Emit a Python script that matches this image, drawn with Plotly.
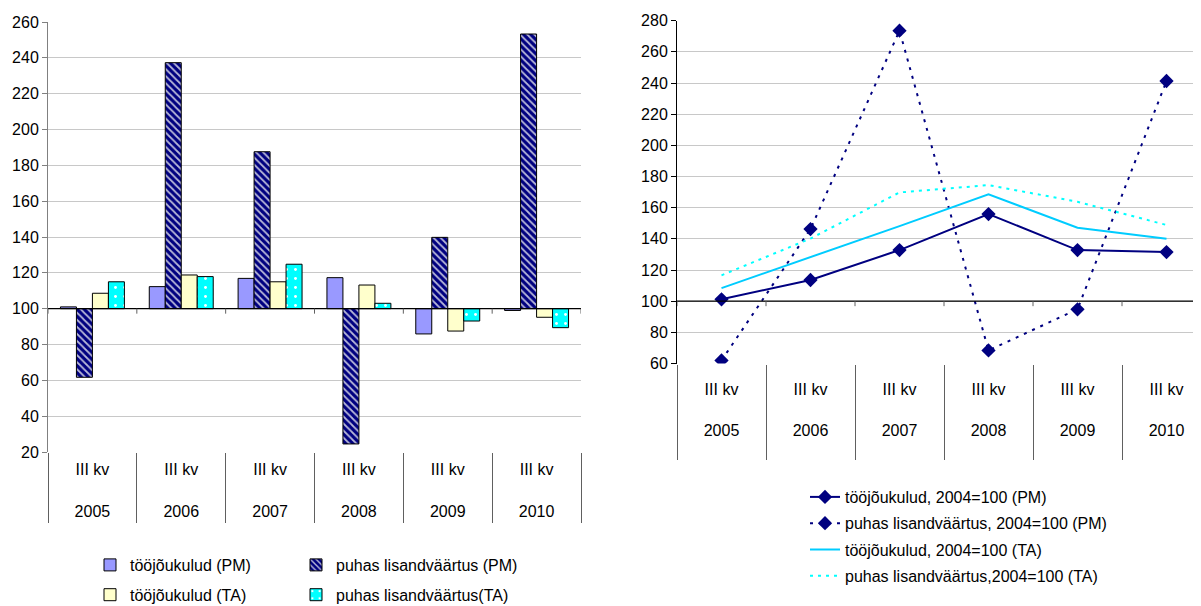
import plotly.graph_objects as go

# ---------------- data ----------------
years = ["2005", "2006", "2007", "2008", "2009", "2010"]
quarters = ["III kv"] * 6
BASE = 100

# left chart (bars), values of index
labour_pm = [101.0, 112.3, 116.9, 117.3, 85.9, 99.0]
netva_pm = [61.7, 237.3, 187.6, 24.5, 139.8, 253.3]
labour_ta = [108.6, 118.8, 115.0, 113.2, 87.5, 95.2]
netva_ta = [115.0, 117.9, 124.8, 103.0, 93.1, 89.4]

# right chart (lines), 2004=100
idx_labour_pm = [101.2, 113.6, 132.8, 155.9, 132.8, 131.5]
idx_netva_pm = [62.0, 146.3, 273.6, 68.4, 94.8, 241.3]
idx_labour_ta = [108.4, 128.2, 148.2, 168.6, 147.1, 140.1]
idx_netva_ta = [116.6, 140.2, 169.8, 174.5, 163.8, 148.9]

bar_names = ["tööjõukulud (PM)", "puhas lisandväärtus (PM)",
             "tööjõukulud (TA)", "puhas lisandväärtus(TA)"]
line_names = ["tööjõukulud, 2004=100 (PM)", "puhas lisandväärtus, 2004=100 (PM)",
              "tööjõukulud, 2004=100 (TA)", "puhas lisandväärtus,2004=100 (TA)"]
tick_text = [f"{q}<br><br>{y}" for q, y in zip(quarters, years)]

FONT = "Liberation Sans"
OFF = 8                      # page body margin
W, H = 1201 - OFF, 606 - OFF


def px(sx):
    return (sx - OFF) / W


def py(sy):
    return 1 - (sy - OFF) / H


fig = go.Figure()

bar_styles = [
    dict(color="#9999FF"),
    dict(color="#000080", pattern=dict(shape="\\", fgcolor="#B8B8D8", bgcolor="#000080",
                                       size=5, solidity=0.35, fillmode="replace")),
    dict(color="#FFFFCC"),
    dict(color="#00FFFF", pattern=dict(shape=".", fgcolor="#FFFFFF", bgcolor="#00FFFF",
                                       size=9, solidity=0.08, fillmode="replace")),
]
bar_legends = ["legend", "legend3", "legend", "legend3"]
for name, vals, st, lg in zip(bar_names, [labour_pm, netva_pm, labour_ta, netva_ta],
                              bar_styles, bar_legends):
    fig.add_trace(go.Bar(
        x=years, y=[v - BASE for v in vals], base=BASE, name=name,
        marker=dict(line=dict(color="#000000", width=1), **st),
        xaxis="x", yaxis="y", legend=lg, legendgroup=name,
    ))

line_styles = [
    dict(line=dict(color="#000080", width=2), mode="lines+markers",
         marker=dict(symbol="diamond", size=11, color="#000080")),
    dict(line=dict(color="#000080", width=2, dash="3px,6px"), mode="lines+markers",
         marker=dict(symbol="diamond", size=11, color="#000080")),
    dict(line=dict(color="#00CCFF", width=2), mode="lines"),
    dict(line=dict(color="#00FFFF", width=2, dash="3px,5px"), mode="lines"),
]
for name, vals, st in zip(line_names, [idx_labour_pm, idx_netva_pm, idx_labour_ta, idx_netva_ta],
                          line_styles):
    fig.add_trace(go.Scatter(x=years, y=vals, name=name, xaxis="x2", yaxis="y2",
                             legend="legend2", legendgroup=name, **st))

# crossing line at 100 with its small tick marks at category boundaries
shapes = []
for xa, ya in [("x", "y"), ("x2", "y2")]:
    shapes.append(dict(type="line", xref=f"{xa} domain", yref=ya, x0=0, x1=1,
                       y0=BASE, y1=BASE, line=dict(color="#000000", width=1.2)))
    for i in range(len(years) + 1):
        shapes.append(dict(type="line", xref=xa, yref=ya, ysizemode="pixel", yanchor=BASE,
                           x0=i - 0.5, x1=i - 0.5, y0=0, y1=-5,
                           line=dict(color="#606060", width=1)))
fig.update_layout(shapes=shapes)

axis_font = dict(family=FONT, size=16, color="#000000")
common_x = dict(type="category", showgrid=False, showline=False, zeroline=False,
                tickmode="array", tickvals=years, ticktext=tick_text,
                ticks="outside", tickson="boundaries", tickcolor="#606060", tickwidth=1,
                tickfont=axis_font)
common_y = dict(dtick=20, showgrid=True, gridcolor="#C8C8C8", gridwidth=1,
                showline=True, ticks="outside", ticklen=5, zeroline=False,
                tickfont=axis_font)

fig.update_layout(
    width=W, height=H,
    margin=dict(l=0, r=0, t=0, b=0, autoexpand=False),
    paper_bgcolor="#FFFFFF", plot_bgcolor="#FFFFFF",
    font=dict(family=FONT, size=16, color="#000000"),
    barmode="group", bargap=0.28, bargroupgap=0,
    xaxis=dict(domain=[px(48), px(581)], anchor="y", range=[-0.5, 5.5],
               ticklen=70, ticklabelstandoff=6, **common_x),
    yaxis=dict(domain=[py(452), py(22)], anchor="x", range=[20, 260],
               linecolor="#808080", tickcolor="#808080", **common_y),
    xaxis2=dict(domain=[px(677), 1.0], anchor="y2", range=[-0.5, -0.5 + (1201 - 677) / 89.0],
                ticklen=95, ticklabelstandoff=14, **common_x),
    yaxis2=dict(domain=[py(363.5), py(20.7)], anchor="x2", range=[60, 280],
                linecolor="#000000", tickcolor="#000000", **common_y),
    legend=dict(x=px(90), y=py(548), xanchor="left", yanchor="top",
                font=dict(family=FONT, size=16), bgcolor="rgba(0,0,0,0)",
                tracegroupgap=6, itemclick=False),
    legend3=dict(x=px(296), y=py(548), xanchor="left", yanchor="top",
                 font=dict(family=FONT, size=16), bgcolor="rgba(0,0,0,0)",
                 tracegroupgap=6, itemclick=False),
    legend2=dict(x=px(805), y=py(480), xanchor="left", yanchor="top",
                 font=dict(family=FONT, size=16), bgcolor="rgba(0,0,0,0)",
                 tracegroupgap=2.5, itemclick=False),
)

fig.write_html("out.html")
